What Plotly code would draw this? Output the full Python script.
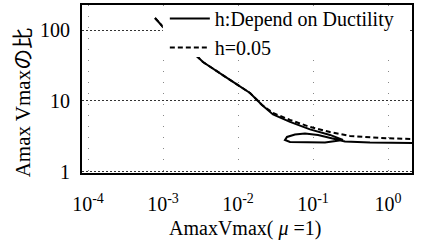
import plotly.graph_objects as go

# x tick positions / labels
x_tickvals = [1e-4, 1e-3, 1e-2, 1e-1, 1e0]
x_ticktext = ["10<sup>-4</sup>", "10<sup>-3</sup>", "10<sup>-2</sup>", "10<sup>-1</sup>", "10<sup>0</sup>"]
y_tickvals = [1, 10, 100]
y_ticktext = ["1", "10", "100"]

# h:Depend on Ductility (solid) -- parametric curve with loop
x_ductility = [7.82e-4, 1.0e-3, 1.97e-3, 3.41e-3, 7.82e-3, 0.01445, 0.0209, 0.0293, 0.0494,
               0.0912, 0.1686, 0.251, 0.1445, 0.0782, 0.0494, 0.0423, 0.045, 0.0575,
               0.0782, 0.1167, 0.179, 0.267, 0.575, 2.09]
y_ductility = [150, 112, 62, 35.7, 19.9, 13.0, 8.78, 6.45, 5.05,
               3.95, 3.30, 2.80, 2.58, 2.58, 2.62, 2.80, 3.09, 3.35,
               3.46, 3.29, 2.94, 2.66, 2.58, 2.54]

# h=0.05 (dashed)
x_h005 = [7.82e-4, 1.0e-3, 1.97e-3, 3.41e-3, 7.82e-3, 0.01445, 0.0209, 0.0293, 0.0494,
          0.0912, 0.1686, 0.311, 0.782, 2.09]
y_h005 = [150, 112, 62, 35.7, 19.9, 13.0, 8.78, 6.76, 5.38,
          4.28, 3.63, 3.19, 2.99, 2.89]

FONT = "Liberation Serif, Times New Roman, Noto Sans CJK JP, serif"

fig = go.Figure()
fig.add_trace(go.Scatter(x=x_ductility, y=y_ductility, mode="lines",
                         name="h:Depend on Ductility",
                         line=dict(color="black", width=2)))
fig.add_trace(go.Scatter(x=x_h005, y=y_h005, mode="lines",
                         name="h=0.05",
                         line=dict(color="black", width=2, dash="5px,3px")))

fig.update_layout(
    width=424, height=244,
    margin=dict(l=82, r=12, t=5, b=71, autoexpand=False),
    paper_bgcolor="white", plot_bgcolor="white",
    font=dict(family=FONT, size=20, color="black"),
    showlegend=True,
    legend=dict(x=0.251, y=1.036, xanchor="left", yanchor="top",
                bgcolor="rgba(0,0,0,0)", borderwidth=0,
                font=dict(family=FONT, size=20, color="black"),
                tracegroupgap=0, itemwidth=40),
    xaxis=dict(type="log", range=[-4.08, 0.32],
               tickvals=x_tickvals, ticktext=x_ticktext,
               showline=True, linecolor="black", linewidth=2, mirror=True,
               showgrid=True, gridcolor="#888", gridwidth=1, griddash="1px,10px",
               ticks="", zeroline=False, ticklabelstandoff=12,
               tickfont=dict(family=FONT, size=20, color="black")),
    yaxis=dict(type="log", range=[-0.021, 2.36],
               tickvals=y_tickvals, ticktext=y_ticktext,
               showline=True, linecolor="black", linewidth=2, mirror=True,
               showgrid=True, gridcolor="#333", gridwidth=1, griddash="2px,2px",
               ticks="", zeroline=False, ticklabelstandoff=6,
               tickfont=dict(family=FONT, size=20, color="black")),
    shapes=[
        dict(type="rect", xref="paper", yref="paper",
             x0=0.245, x1=0.994, y0=0.69, y1=0.99,
             fillcolor="white", line=dict(width=0), layer="above"),
    ],
    annotations=[
        dict(text="Amax Vmaxの比", textangle=-90, showarrow=False,
             xref="paper", yref="paper", x=-0.176, y=0.42,
             xanchor="center", yanchor="middle",
             font=dict(family=FONT, size=21, color="black")),
        dict(text="AmaxVmax( <i>μ</i> =1)", showarrow=False,
             xref="paper", yref="paper", x=0.494, y=-0.33,
             xanchor="center", yanchor="middle",
             font=dict(family=FONT, size=20, color="black")),
    ],
)

fig.write_html("out.html",
               config={"displayModeBar": False},
               post_script="document.body.style.margin='0';document.body.style.overflow='hidden';")
